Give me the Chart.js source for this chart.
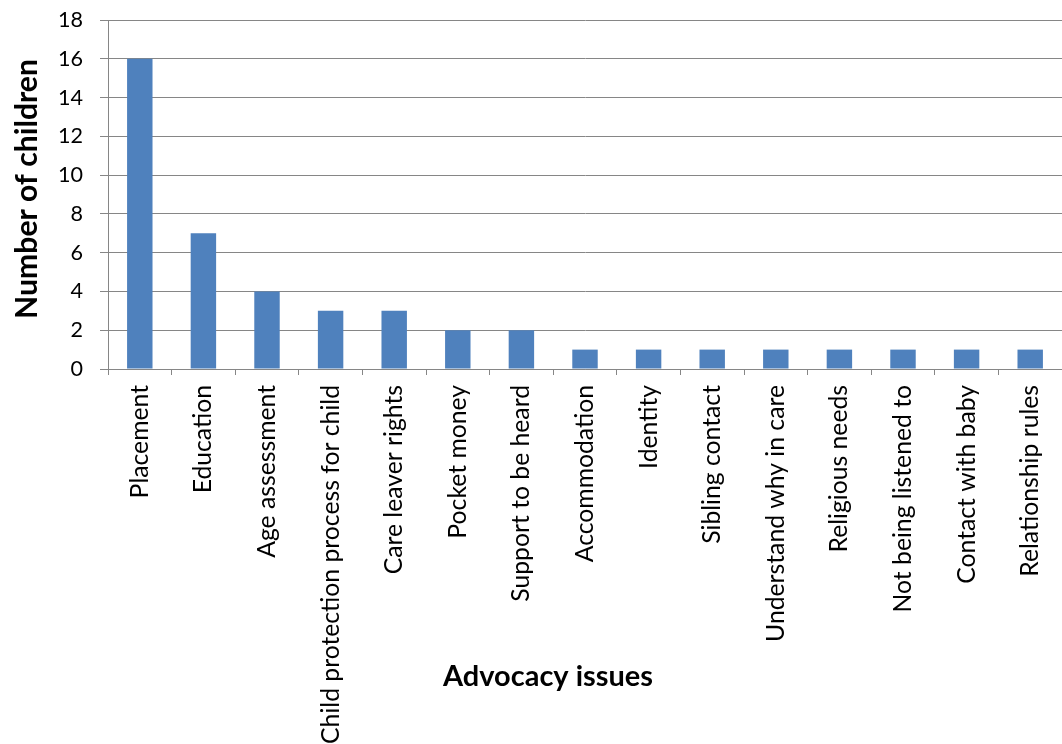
<!DOCTYPE html>
<html>
<head>
<meta charset="utf-8">
<script src="https://cdn.jsdelivr.net/npm/chart.js@4"></script>
<style>
  html, body { margin: 0; padding: 0; background: #ffffff; }
  #c { display: block; }
</style>
</head>
<body>
<canvas id="c" width="1062" height="744"></canvas>
<script>
const categories = [
  'Placement', 'Education', 'Age assessment', 'Child protection process for child',
  'Care leaver rights', 'Pocket money', 'Support to be heard', 'Accommodation',
  'Identity', 'Sibling contact', 'Understand why in care', 'Religious needs',
  'Not being listened to', 'Contact with baby', 'Relationship rules'
];
const childCounts = [16, 7, 4, 3, 3, 2, 2, 1, 1, 1, 1, 1, 1, 1, 1];
const yMin = 0, yMax = 18, yStep = 2;
const xTitle = 'Advocacy issues';
const yTitle = 'Number of children';

const FONT = 'Lato, "Open Sans", sans-serif';
const mctx = document.createElement('canvas').getContext('2d');
function fit(text, weight, target) {
  mctx.font = weight + ' 100px ' + FONT;
  return 100 * target / mctx.measureText(text).width;
}
const catSize = fit('Child protection process for child', 'normal', 359);
const tickSize = fit('18', 'normal', 25);
const xTitleSize = fit(xTitle, 'bold', 210);
const yTitleSize = fit(yTitle, 'bold', 260);

const GRID = '#868686';

const titlesPlugin = {
  id: 'axisTitles',
  afterDraw(chart) {
    const ctx = chart.ctx;
    ctx.save();
    ctx.fillStyle = '#000000';
    ctx.textAlign = 'center';
    ctx.textBaseline = 'middle';
    ctx.font = 'bold ' + xTitleSize + 'px ' + FONT;
    ctx.fillText(xTitle, 548, 677);
    ctx.translate(27, 189);
    ctx.rotate(-Math.PI / 2);
    ctx.font = 'bold ' + yTitleSize + 'px ' + FONT;
    ctx.fillText(yTitle, 0, 0);
    ctx.restore();
  }
};

new Chart(document.getElementById('c'), {
  type: 'bar',
  data: {
    labels: categories,
    datasets: [{
      data: childCounts,
      backgroundColor: '#4F81BD',
      borderWidth: 0,
      barPercentage: 0.8,
      categoryPercentage: 0.5
    }]
  },
  options: {
    responsive: false,
    devicePixelRatio: 1,
    animation: false,
    layout: { padding: { top: 20, right: 0, bottom: 0, left: 0 } },
    plugins: { legend: { display: false }, tooltip: { enabled: false } },
    scales: {
      x: {
        afterFit(scale) {
          scale.height = 375;
          scale.paddingLeft = 0; scale.paddingRight = 0;
        },
        grid: {
          display: true, drawOnChartArea: false, drawTicks: true,
          tickLength: 6, color: GRID, offset: true
        },
        border: { display: true, color: GRID, width: 1 },
        ticks: {
          autoSkip: false, minRotation: 90, maxRotation: 90,
          padding: 10, color: '#000000',
          font: { family: FONT, size: catSize }
        }
      },
      y: {
        min: yMin, max: yMax,
        afterFit(scale) {
          scale.width = 108;
          scale.paddingTop = 0; scale.paddingBottom = 0;
        },
        grid: { color: GRID, tickLength: 8, lineWidth: 1 },
        border: { display: true, color: GRID, width: 1 },
        ticks: {
          stepSize: yStep, padding: 17, color: '#000000',
          font: { family: FONT, size: tickSize }
        }
      }
    }
  },
  plugins: [titlesPlugin]
});
</script>
</body>
</html>
